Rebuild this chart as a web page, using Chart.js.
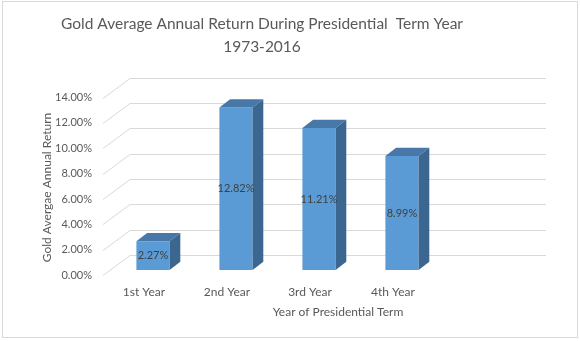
<!DOCTYPE html>
<html>
<head>
<meta charset="utf-8">
<script src="https://cdn.jsdelivr.net/npm/chart.js@4"></script>
<style>
  body { margin: 0; background: #fff; }
  #wrap { width: 580px; height: 341px; }
</style>
</head>
<body>
<div id="wrap"><canvas id="myChart"></canvas></div>
<script>
// data
const categories = ['1st Year', '2nd Year', '3rd Year', '4th Year'];
const returns = [2.27, 12.82, 11.21, 8.99];
const yTicks = [0, 2, 4, 6, 8, 10, 12, 14];
const titleLines = ['Gold Average Annual Return During Presidential  Term Year', '1973-2016'];

const FONT = 'Lato, "Liberation Sans", sans-serif';
const TEXT = '#595959';

// outer chart border
const frame = {
    id: 'frame',
    beforeDraw(chart) {
        const ctx = chart.ctx;
        ctx.save();
        ctx.fillStyle = '#fff';
        ctx.fillRect(0, 0, chart.width, chart.height);
        ctx.strokeStyle = '#d9d9d9';
        ctx.lineWidth = 1;
        ctx.strokeRect(2.5, 1.5, chart.width - 5, chart.height - 5);
        ctx.restore();
    }
};

// back wall gridlines (3d look)
const wall = {
    id: 'wall',
    beforeDatasetsDraw(chart) {
        const ctx = chart.ctx;
        const y = chart.scales.y;
        const area = chart.chartArea;
        ctx.save();
        ctx.strokeStyle = '#d9d9d9';
        ctx.lineWidth = 1;
        y.ticks.forEach(t => {
            const py = Math.round(y.getPixelForValue(t.value));
            ctx.beginPath();
            ctx.moveTo(area.left - 8.5, py + 5.5);
            ctx.lineTo(area.left + 18.5, py - 14.5);
            ctx.lineTo(area.right + 102.5, py - 14.5);
            ctx.stroke();
        });
        ctx.restore();
    }
};

// top and side faces + value labels
const bars3d = {
    id: 'bars3d',
    afterDatasetsDraw(chart) {
        const ctx = chart.ctx;
        const meta = chart.getDatasetMeta(0);
        const dx = 10.7, dy = 8.3;
        ctx.save();
        meta.data.forEach((bar, i) => {
            const l = bar.x - bar.width / 2;
            const r = bar.x + bar.width / 2;
            const top = bar.y, base = bar.base;
            // top face
            ctx.fillStyle = '#4878A8';
            ctx.beginPath();
            ctx.moveTo(l, top);
            ctx.lineTo(l + dx, top - dy);
            ctx.lineTo(r + dx, top - dy);
            ctx.lineTo(r, top);
            ctx.closePath();
            ctx.fill();
            // side face
            ctx.fillStyle = '#3B6690';
            ctx.beginPath();
            ctx.moveTo(r, top);
            ctx.lineTo(r + dx, top - dy);
            ctx.lineTo(r + dx, base - dy);
            ctx.lineTo(r, base);
            ctx.closePath();
            ctx.fill();

            ctx.fillStyle = '#404040';
            ctx.font = '11px ' + FONT;
            ctx.textAlign = 'center';
            ctx.textBaseline = 'middle';
            ctx.fillText(returns[i].toFixed(2) + '%', bar.x, (top + base) / 2);
        });
        ctx.restore();
    }
};

// chart title + axis titles
const titles = {
    id: 'titles',
    afterDraw(chart) {
        const ctx = chart.ctx;
        ctx.save();
        ctx.fillStyle = TEXT;
        ctx.textAlign = 'center';
        ctx.textBaseline = 'middle';
        ctx.font = '15.5px ' + FONT;
        titleLines.forEach((line, i) => ctx.fillText(line, 262, 24 + i * 23));
        ctx.font = '12px ' + FONT;
        ctx.fillText('Year of Presidential Term', 338, 312);
        ctx.translate(47, 187.5);
        ctx.rotate(-Math.PI / 2);
        ctx.fillText('Gold Avergae Annual Return', 0, 0);
        ctx.restore();
    }
};

const data = {
    labels: categories,
    datasets: [{
        label: 'Gold Average Annual Return',
        data: returns,
        backgroundColor: '#5B9BD5',
        borderWidth: 0,
        barPercentage: 0.4,
        categoryPercentage: 1
    }]
};

const config = {
    type: 'bar',
    data,
    options: {
        responsive: true,
        maintainAspectRatio: false,
        animation: false,
        layout: {
            padding: { left: 0, right: 136.5, top: 92.6, bottom: 0 }
        },
        plugins: {
            legend: { display: false },
            tooltip: { enabled: false },
            title: { display: false }
        },
        scales: {
            x: {
                grid: { display: false, drawTicks: false },
                border: { display: false },
                ticks: {
                    color: TEXT,
                    font: { family: FONT, size: 12 },
                    padding: 15,
                    labelOffset: -9
                },
                afterFit(s) { s.height = 71; }
            },
            y: {
                min: 0,
                max: 14,
                grid: { display: false, drawTicks: false },
                border: { display: false },
                afterBuildTicks(s) { s.ticks = yTicks.map(v => ({ value: v })); },
                ticks: {
                    color: TEXT,
                    font: { family: FONT, size: 11 },
                    padding: 19.5,
                    labelOffset: 5,
                    callback: v => v.toFixed(2) + '%'
                },
                afterFit(s) { s.width = 111.5; }
            }
        }
    },
    plugins: [frame, wall, bars3d, titles]
};

const myChart = new Chart(document.getElementById('myChart'), config);
</script>
</body>
</html>
